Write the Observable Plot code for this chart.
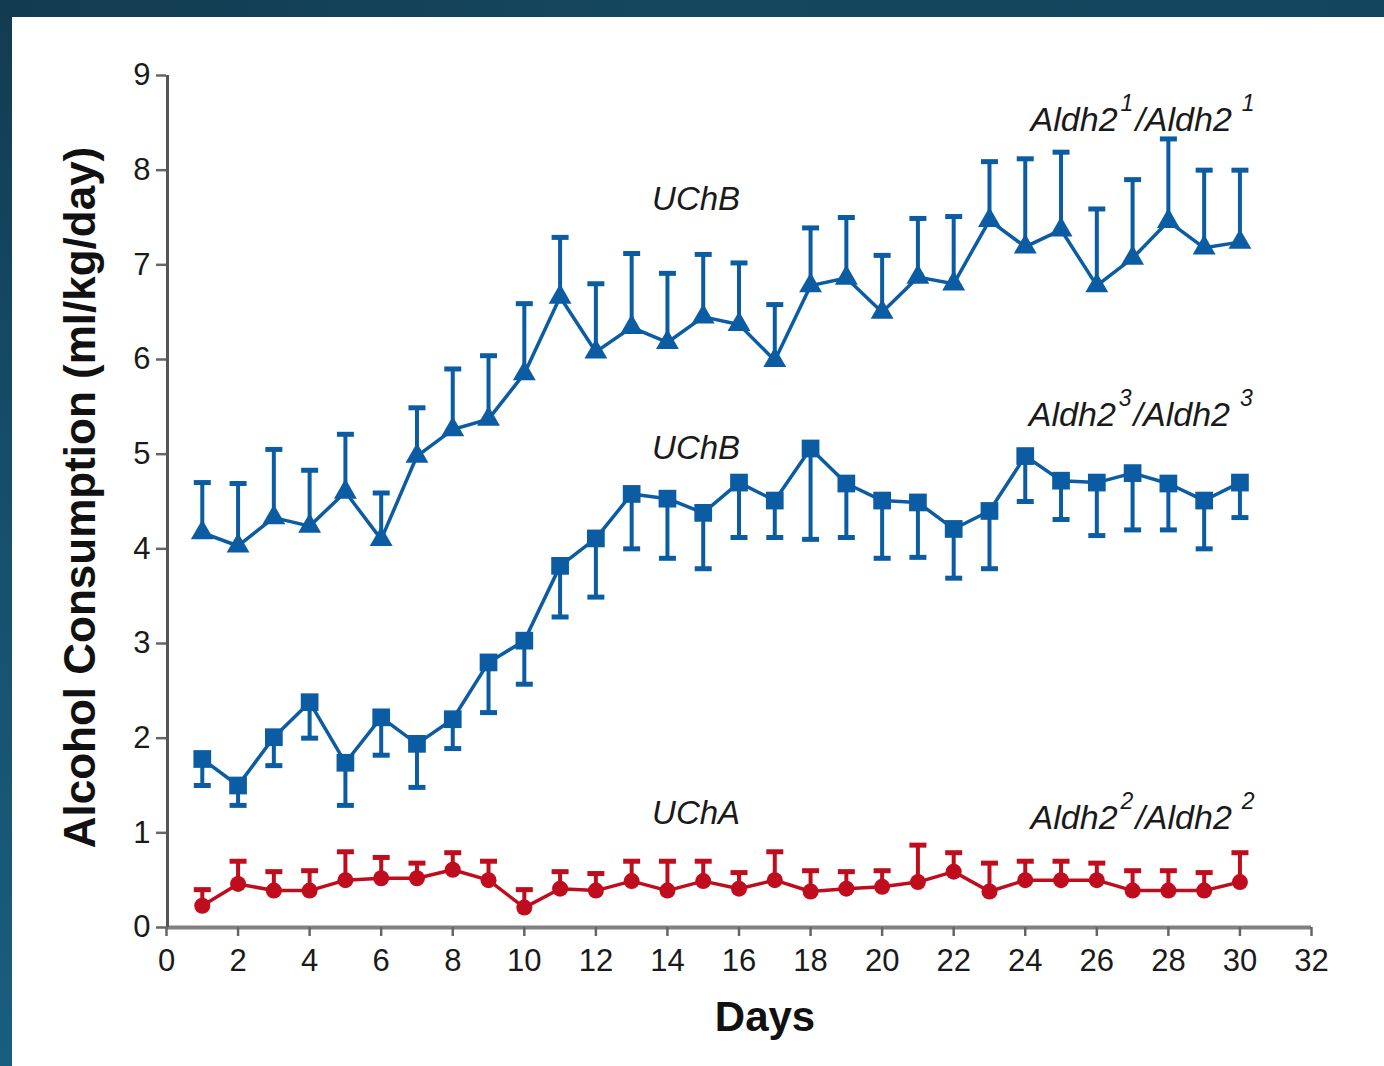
<!DOCTYPE html>
<html><head><meta charset="utf-8">
<script src="https://cdn.jsdelivr.net/npm/d3@7"></script>
<script src="https://cdn.jsdelivr.net/npm/@observablehq/plot@0.6"></script>
<style>
html,body{margin:0;padding:0;background:#fff;}
#wrap{position:relative;width:1384px;height:1066px;overflow:hidden;background:#fff;}
#topband{position:absolute;left:0;top:0;width:1384px;height:17px;background:linear-gradient(90deg,#123b51,#15485f 50%,#13455e);z-index:2}
#leftband{position:absolute;left:0;top:0;width:12px;height:1066px;background:linear-gradient(180deg,#123b51,#16506c 50%,#195e7d);z-index:2}
#chart{position:absolute;left:0;top:0;}
</style></head><body>
<div id="wrap"><div id="chart"></div><div id="topband"></div><div id="leftband"></div></div>
<script>
// ---- data ----
const days = [1,2,3,4,5,6,7,8,9,10,11,12,13,14,15,16,17,18,19,20,21,22,23,24,25,26,27,28,29,30];
// Aldh2^1/Aldh2^1 (UChB, triangles) mean and upper error
const aldh1Mean  = [4.17,4.03,4.33,4.24,4.60,4.10,4.98,5.26,5.37,5.85,6.66,6.08,6.34,6.18,6.45,6.37,5.99,6.78,6.86,6.50,6.87,6.80,7.47,7.19,7.37,6.78,7.07,7.46,7.18,7.24];
const aldh1Upper = [4.70,4.69,5.05,4.83,5.21,4.59,5.49,5.90,6.04,6.59,7.29,6.80,7.12,6.91,7.11,7.02,6.58,7.39,7.50,7.10,7.49,7.51,8.09,8.12,8.19,7.59,7.90,8.33,8.00,8.00];
// Aldh2^3/Aldh2^3 (UChB, squares) mean and lower error
const aldh3Mean  = [1.78,1.50,2.01,2.38,1.74,2.22,1.94,2.20,2.80,3.03,3.82,4.11,4.58,4.53,4.38,4.70,4.51,5.06,4.69,4.51,4.49,4.21,4.40,4.98,4.72,4.70,4.80,4.69,4.51,4.70];
const aldh3Lower = [1.50,1.29,1.71,2.00,1.29,1.82,1.48,1.89,2.27,2.57,3.28,3.49,4.00,3.90,3.79,4.12,4.12,4.10,4.12,3.90,3.91,3.69,3.79,4.50,4.31,4.14,4.20,4.20,4.00,4.33];
// Aldh2^2/Aldh2^2 (UChA, circles) mean and upper error
const aldh2Mean  = [0.23,0.46,0.39,0.39,0.50,0.52,0.52,0.61,0.50,0.21,0.41,0.39,0.49,0.39,0.49,0.41,0.50,0.38,0.41,0.43,0.48,0.59,0.38,0.50,0.50,0.50,0.39,0.39,0.39,0.48];
const aldh2Upper = [0.40,0.70,0.59,0.60,0.80,0.74,0.68,0.79,0.70,0.40,0.59,0.57,0.70,0.70,0.70,0.58,0.80,0.60,0.59,0.60,0.87,0.79,0.68,0.70,0.70,0.68,0.60,0.60,0.58,0.79];

const xTicks = [0,2,4,6,8,10,12,14,16,18,20,22,24,26,28,30,32];
const yTicks = [0,1,2,3,4,5,6,7,8,9];

const strainLabels = ["UChB","UChB","UChA"];
const strainX = [14.8,14.8,14.8];
const strainY = [7.69,5.06,1.21];
const geneSup = ["1","3","2"];
const geneX = [24.15,24.1,24.15];
const geneY = [8.53,5.41,1.16];

// ---- tables ----
const tri = days.map((d,i)=>({day:d, v:aldh1Mean[i], e:aldh1Upper[i]}));
const sq  = days.map((d,i)=>({day:d, v:aldh3Mean[i], e:aldh3Lower[i]}));
const cir = days.map((d,i)=>({day:d, v:aldh2Mean[i], e:aldh2Upper[i]}));
const strains = strainLabels.map((t,i)=>({t, x:strainX[i], y:strainY[i]}));
const genes = geneSup.map((s,i)=>({s, x:geneX[i], y:geneY[i]}));

const blue = "#0b5ca3", red = "#c00d1d";
const cap = {draw(ctx,size){const w=Math.sqrt(size/Math.PI); ctx.moveTo(-w,0); ctx.lineTo(w,0);}};

function series(data, color, symbol, r){
  return [
    Plot.ruleX(data, {x:"day", y1:"v", y2:"e", stroke:color, strokeWidth:4}),
    Plot.dot(data, {x:"day", y:"e", symbol:cap, r:8.5, stroke:color, strokeWidth:5}),
    Plot.line(data, {x:"day", y:"v", stroke:color, strokeWidth:3.5}),
    Plot.dot(data, {x:"day", y:"v", symbol, r, fill:color, stroke:"none"})
  ];
}

const chart = Plot.plot({
  width:1384, height:1066,
  marginLeft:166, marginRight:73, marginTop:75, marginBottom:139,
  style:{fontFamily:"'Liberation Sans', Arial, sans-serif", background:"transparent", color:"#1a1a1a", fontSize:"31px"},
  x:{domain:[0,32]},
  y:{domain:[0,9]},
  marks:[
    Plot.ruleY([0], {stroke:"#808080", strokeWidth:4}),
    Plot.ruleX([0], {stroke:"#555", strokeWidth:3, dx:1}),
    Plot.axisX({ticks:xTicks, tickSize:9, tickPadding:12, fontSize:31, stroke:"#666", strokeWidth:2.5, label:null}),
    Plot.axisY({ticks:yTicks, tickSize:10, tickPadding:6, fontSize:31, stroke:"#666", strokeWidth:2.5, label:null}),
    ...series(tri, blue, "triangle", 8.5),
    ...series(sq, blue, "square", 10),
    ...series(cir, red, "circle", 8),
    Plot.text(strains, {x:"x", y:"y", text:"t", fontSize:33, fontStyle:"italic", fill:"#1a1a1a"}),
    Plot.text(genes, {x:"x", y:"y", text:d=>"Aldh2"+d.s+"/Aldh2"+d.s, textAnchor:"start", fontSize:34, fontStyle:"italic", fill:"#1a1a1a"}),
    Plot.text(["Days"], {frameAnchor:"bottom", lineAnchor:"middle", textAnchor:"middle", dy:90, dx:26, fontSize:42, fontWeight:"bold", fill:"#111"}),
    Plot.text(["Alcohol Consumption (ml/kg/day)"], {frameAnchor:"left", textAnchor:"middle", lineAnchor:"middle", rotate:-90, dx:-86, dy:-4, fontSize:44, fontWeight:"bold", fill:"#111"})
  ]
});

document.getElementById("chart").appendChild(chart);

// superscripts for genotype labels
d3.select(chart).selectAll("text").filter(function(){return /^Aldh2\d\/Aldh2\d$/.test(this.textContent);}).each(function(){
  const s = this.textContent[5];
  const t = d3.select(this); t.text(null);
  t.append("tspan").text("Aldh2");
  t.append("tspan").attr("dy",-20).attr("dx",3).attr("font-size",23).text(s);
  t.append("tspan").attr("dy",20).attr("dx",2).text("/Aldh2");
  t.append("tspan").attr("dy",-20).attr("dx",10).attr("font-size",23).text(s);
});
</script>
</body></html>
